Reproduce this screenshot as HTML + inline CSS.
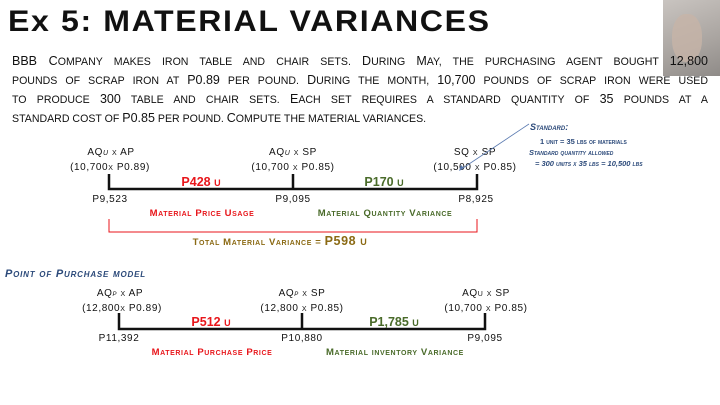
<!DOCTYPE html>
<html><head><meta charset="utf-8"><style>
body{margin:0;width:720px;height:405px;background:#fff;overflow:hidden;position:relative;font-family:"Liberation Sans",sans-serif}
.photo{position:absolute;left:663px;top:0;width:57px;height:76px;background:linear-gradient(160deg,#c9c4c0,#a9a4a0 60%,#8f8b88)}
.face{position:absolute;left:672px;top:14px;width:30px;height:48px;border-radius:45%;background:#c7b4a8;opacity:.8}
h1{position:absolute;left:8px;top:5px;margin:0;font-size:30px;font-weight:900;letter-spacing:1.5px;color:#111;white-space:nowrap;transform:scaleX(1.07);transform-origin:left}
.p{position:absolute;left:12px;width:696px;top:52px;font-size:10.6px;line-height:18px;color:#111;text-transform:uppercase}
.p div{text-align:justify;text-align-last:justify;white-space:nowrap}
.p div.l{text-align-last:left}
.p b{font-weight:normal;font-size:12.5px}
svg{position:absolute;left:0;top:0}
</style></head><body>
<div class="photo"></div><div class="face"></div>
<h1>Ex 5: MATERIAL VARIANCES</h1>
<div class="p">
<div><b>BBB C</b>ompany makes iron table and chair sets. <b>D</b>uring <b>M</b>ay, the purchasing agent bought <b>12,800</b></div>
<div>pounds of scrap iron at <b>P0.89</b> per pound. <b>D</b>uring the month, <b>10,700</b> pounds of scrap iron were used</div>
<div>to produce <b>300</b> table and chair sets. <b>E</b>ach set requires a standard quantity of <b>35</b> pounds at a</div>
<div class="l">standard cost of <b>P0.85</b> per pound. <b>C</b>ompute the material variances.</div>
</div>
<svg width="720" height="405" font-family="Liberation Sans,sans-serif" font-size="10" style="font-variant:small-caps" text-anchor="middle">
<g fill="#111" letter-spacing=".6">
<text x="111" y="155">AQ<tspan font-style="italic">u</tspan> x AP</text>
<text x="110" y="170">(10,700x P0.89)</text>
<text x="293" y="155">AQ<tspan font-style="italic">u</tspan> x SP</text>
<text x="293" y="170">(10,700 x P0.85)</text>
<text x="475" y="155">SQ x SP</text>
<text x="475" y="170">(10,500 x P0.85)</text>
<text x="110" y="202">P9,523</text>
<text x="293" y="202">P9,095</text>
<text x="476" y="202">P8,925</text>
</g>
<path d="M109 174V189H477V174M293 174V189" stroke="#111" stroke-width="2.5" fill="none"/>
<text x="201" y="186" fill="#e8161b" font-weight="bold" font-size="12.5">P428 u</text>
<text x="384" y="186" fill="#4a6b2a" font-weight="bold" font-size="12.5">P170 u</text>
<text x="202" y="216" fill="#e8161b" font-weight="bold" font-size="9.5" letter-spacing=".6">Material Price Usage</text>
<text x="385" y="216" fill="#4a6b2a" font-weight="bold" font-size="9.5" letter-spacing=".6">Material Quantity Variance</text>
<path d="M109 219V232H477V219" stroke="#e8161b" stroke-width="1" fill="none"/>
<text x="280" y="245" fill="#8b6a14" font-weight="bold" font-size="9.5" letter-spacing=".6">Total Material Variance = <tspan font-size="12.5">P598 u</tspan></text>
<g fill="#2c4a7a" font-weight="bold" font-style="italic" text-anchor="start">
<text x="530" y="130" font-size="9">Standard:</text>
<text x="540" y="144" font-size="7.5" font-style="normal">1 unit = 35 lbs of materials</text>
<text x="529" y="155" font-size="7.5">Standard quantity allowed</text>
<text x="535" y="166" font-size="7.5">= 300 units x 35 lbs = 10,500 lbs</text>
<text x="5" y="277" font-size="11" letter-spacing=".8">Point of Purchase model</text>
</g>
<path d="M529 124L460 170" stroke="#5a7ab0" stroke-width="0.8"/>
<path d="M459 171l2-6 3 3z" fill="#5a7ab0"/>
<g fill="#111" letter-spacing=".6">
<text x="120" y="296">AQ<tspan font-style="italic" font-size="8">p</tspan> x AP</text>
<text x="122" y="311">(12,800x P0.89)</text>
<text x="302" y="296">AQ<tspan font-style="italic" font-size="8">p</tspan> x SP</text>
<text x="302" y="311">(12,800 x P0.85)</text>
<text x="486" y="296">AQu x SP</text>
<text x="486" y="311">(10,700 x P0.85)</text>
<text x="119" y="341">P11,392</text>
<text x="302" y="341">P10,880</text>
<text x="485" y="341">P9,095</text>
</g>
<path d="M119 313V329H485V313M302 313V329" stroke="#111" stroke-width="2.5" fill="none"/>
<text x="211" y="326" fill="#e8161b" font-weight="bold" font-size="12.5">P512 u</text>
<text x="394" y="326" fill="#4a6b2a" font-weight="bold" font-size="12.5">P1,785 u</text>
<text x="212" y="355" fill="#e8161b" font-weight="bold" font-size="9.5" letter-spacing=".6">Material Purchase Price</text>
<text x="395" y="355" fill="#4a6b2a" font-weight="bold" font-size="9.5" letter-spacing=".6">Material inventory Variance</text>
</svg>
</body></html>
